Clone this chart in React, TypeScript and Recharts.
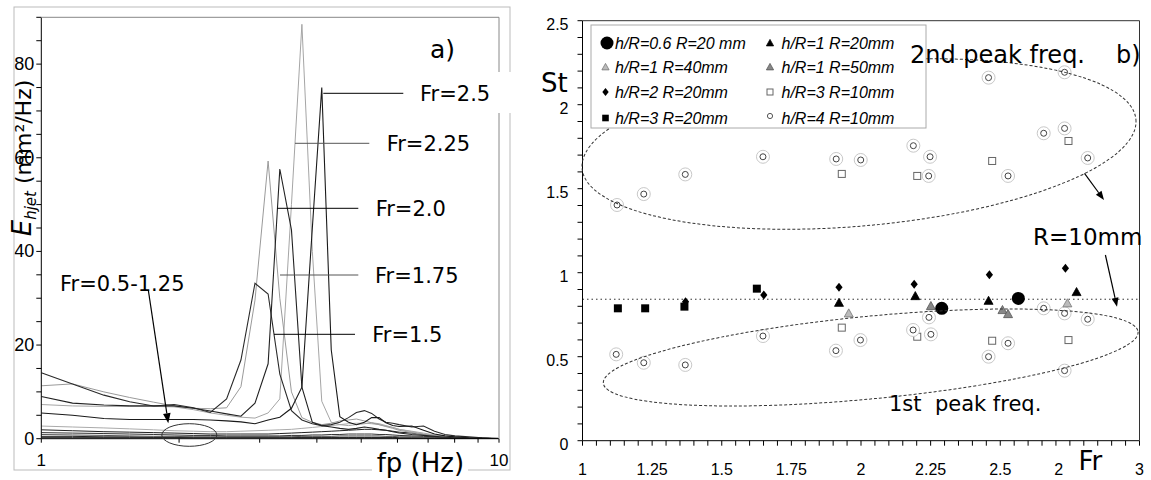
import React from 'react';
import { LineChart, Line, XAxis, YAxis, ScatterChart, Scatter, ReferenceLine } from 'recharts';

const ARIAL = 'Liberation Sans, Arial, sans-serif';
const DEJAVU = 'DejaVu Sans, sans-serif';

// ---------- Panel a) spectra ----------
const freqs = [1.0, 1.17, 1.37, 1.56, 1.76, 1.95, 2.15, 2.34, 2.54, 2.73, 2.93, 3.13, 3.32, 3.52, 3.71, 3.91, 4.10, 4.30, 4.49, 4.69, 4.88, 5.08, 5.27, 5.47, 5.66, 5.86, 6.05, 6.45, 6.84, 7.23, 7.62, 8.01, 8.59, 9.18, 9.96];
const specFr150 = [14.1, 11.7, 9.3, 7.9, 7.0, 7.3, 6.6, 5.6, 8.5, 16.8, 33.2, 30.9, 13.8, 6.0, 4.0, 3.2, 2.8, 3.0, 3.5, 4.5, 5.6, 6.0, 5.4, 4.2, 3.5, 3.3, 3.0, 2.5, 2.7, 1.6, 0.9, 0.6, 0.4, 0.2, 0.1];
const specFr175 = [11.3, 11.7, 10.0, 8.8, 7.8, 7.0, 6.5, 6.4, 6.6, 11.1, 29.6, 59.3, 30.0, 10.0, 4.5, 3.5, 3.0, 3.3, 3.8, 4.0, 4.2, 3.8, 3.4, 3.0, 2.6, 2.2, 1.8, 1.3, 0.9, 0.6, 0.4, 0.3, 0.2, 0.1, 0.0];
const specFr200 = [9.0, 7.6, 7.2, 7.0, 7.0, 7.0, 6.5, 5.9, 5.3, 4.8, 7.6, 16.0, 57.6, 44.6, 11.0, 3.5, 2.8, 2.5, 2.2, 2.0, 2.2, 2.5, 2.3, 2.0, 1.8, 1.5, 1.2, 0.9, 0.7, 0.5, 0.3, 0.2, 0.1, 0.1, 0.0];
const specFr225 = [7.3, 7.0, 6.9, 6.9, 6.9, 6.8, 6.2, 5.5, 5.0, 4.6, 4.4, 5.5, 8.5, 50.0, 88.5, 40.0, 8.0, 3.5, 3.0, 2.8, 3.0, 3.2, 3.4, 3.2, 2.8, 2.4, 2.0, 1.5, 1.0, 0.7, 0.5, 0.3, 0.2, 0.1, 0.0];
const specFr250 = [5.5, 5.0, 4.3, 4.1, 4.1, 4.1, 4.1, 4.0, 3.8, 3.6, 3.2, 4.0, 4.6, 6.5, 11.0, 45.0, 75.0, 19.0, 4.7, 3.5, 3.0, 3.5, 4.5, 4.5, 3.4, 2.8, 2.6, 2.7, 1.8, 1.0, 0.6, 0.4, 0.2, 0.1, 0.0];
const specLow1 = [2.7, 2.5, 2.3, 2.1, 1.9, 1.7, 1.6, 1.5, 1.5, 1.6, 1.7, 1.8, 1.9, 2.0, 2.2, 2.4, 2.6, 2.8, 3.0, 3.2, 3.3, 3.3, 3.2, 3.0, 2.7, 2.4, 2.0, 1.6, 1.2, 0.8, 0.5, 0.3, 0.2, 0.1, 0.0];
const specLow2 = [1.9, 1.7, 1.5, 1.4, 1.3, 1.2, 1.1, 1.0, 1.0, 1.0, 1.0, 1.0, 1.1, 1.2, 1.3, 1.4, 1.5, 1.6, 1.7, 1.8, 1.9, 2.0, 2.0, 1.9, 1.8, 1.6, 1.4, 1.2, 0.9, 0.6, 0.4, 0.3, 0.2, 0.1, 0.0];
const specLow3 = [1.3, 1.2, 1.1, 1.0, 0.9, 0.8, 0.7, 0.7, 0.6, 0.6, 0.6, 0.6, 0.6, 0.7, 0.7, 0.8, 0.8, 0.9, 0.9, 1.0, 1.0, 1.0, 1.0, 0.9, 0.9, 0.8, 0.7, 0.6, 0.5, 0.4, 0.3, 0.2, 0.1, 0.1, 0.0];
const specLow4 = [0.9, 0.8, 0.7, 0.6, 0.5, 0.5, 0.4, 0.4, 0.4, 0.4, 0.4, 0.4, 0.4, 0.4, 0.5, 0.5, 0.5, 0.5, 0.6, 0.6, 0.6, 0.6, 0.6, 0.6, 0.5, 0.5, 0.4, 0.4, 0.3, 0.3, 0.2, 0.2, 0.1, 0.1, 0.0];
const specLow5 = [0.5, 0.5, 0.4, 0.4, 0.3, 0.3, 0.3, 0.3, 0.3, 0.3, 0.3, 0.3, 0.3, 0.3, 0.3, 0.3, 0.3, 0.3, 0.3, 0.3, 0.3, 0.3, 0.3, 0.3, 0.3, 0.3, 0.2, 0.2, 0.2, 0.2, 0.1, 0.1, 0.1, 0.1, 0.0];
const specLow6 = [0.2, 0.2, 0.2, 0.2, 0.2, 0.2, 0.2, 0.2, 0.2, 0.2, 0.2, 0.2, 0.2, 0.2, 0.2, 0.2, 0.2, 0.2, 0.2, 0.2, 0.2, 0.2, 0.2, 0.2, 0.2, 0.2, 0.1, 0.1, 0.1, 0.1, 0.1, 0.1, 0.0, 0.0, 0.0];

const leftXTicks = [1, 2, 3, 4, 5, 6, 7, 8, 9, 10];
const leftXLabels = [1, 10];
const leftYTicks = [0, 5, 10, 15, 20, 25, 30, 35, 40, 45, 50, 55, 60, 65, 70, 75, 80, 85, 90];
const leftYLabels = [0, 20, 40, 60, 80];

const spectra = [
  { key: 'low6', values: specLow6, color: '#000', w: 1 },
  { key: 'low5', values: specLow5, color: '#222', w: 1 },
  { key: 'low4', values: specLow4, color: '#555', w: 1 },
  { key: 'low3', values: specLow3, color: '#333', w: 1 },
  { key: 'low2', values: specLow2, color: '#222', w: 1 },
  { key: 'low1', values: specLow1, color: '#aaa', w: 1 },
  { key: 'fr225', values: specFr225, color: '#a5a5a5', w: 1 },
  { key: 'fr175', values: specFr175, color: '#9a9a9a', w: 1 },
  { key: 'fr150', values: specFr150, color: '#2a2a2a', w: 1.1 },
  { key: 'fr200', values: specFr200, color: '#222', w: 1.1 },
  { key: 'fr250', values: specFr250, color: '#1a1a1a', w: 1.1 },
];
const spectrumRows = freqs.map((f, i) => {
  const row: any = { f };
  spectra.forEach((s) => { row[s.key] = s.values[i]; });
  return row;
});

// ---------- Panel b) Strouhal vs Froude ----------
const hR06R20 = [[2.29, 0.788], [2.565, 0.847]];
const hR1R20 = [[1.921, 0.821], [2.195, 0.861], [2.458, 0.833], [2.774, 0.885]];
const hR1R40 = [[1.956, 0.758], [2.741, 0.818]];
const hR1R50 = [[2.251, 0.802], [2.508, 0.778], [2.528, 0.754]];
const hR2R20 = [[1.37, 0.827], [1.651, 0.867], [1.921, 0.913], [2.191, 0.931], [2.461, 0.988], [2.734, 1.026]];
const hR3R10 = [[1.931, 1.588], [2.202, 1.576], [2.471, 1.665], [2.745, 1.784], [1.931, 0.673], [2.202, 0.619], [2.471, 0.595], [2.745, 0.599]];
const hR3R20 = [[1.127, 0.788], [1.225, 0.788], [1.366, 0.798], [1.626, 0.905]];
const hR4R10 = [
  [1.124, 1.403], [1.22, 1.468], [1.369, 1.585], [1.648, 1.69], [1.911, 1.677], [1.999, 1.671], [2.188, 1.756], [2.248, 1.69],
  [2.243, 1.576], [2.458, 2.161], [2.528, 1.576], [2.656, 1.83], [2.731, 2.193], [2.731, 1.859], [2.814, 1.683],
  [1.121, 0.514], [1.22, 0.464], [1.369, 0.451], [1.648, 0.623], [1.91, 0.536], [1.998, 0.599], [2.187, 0.659], [2.244, 0.734],
  [2.251, 0.633], [2.458, 0.5], [2.528, 0.58], [2.656, 0.788], [2.731, 0.758], [2.731, 0.417], [2.814, 0.723],
];
const stDottedLevel = 0.842;

const rightXTicks = Array.from({ length: 41 }, (_, i) => Math.round((1 + i * 0.05) * 100) / 100);
const rightXLabels = [1, 1.25, 1.5, 1.75, 2, 2.25, 2.5, 2.75, 3];
const rightYTicks = Array.from({ length: 26 }, (_, i) => Math.round(i * 0.1 * 10) / 10);
const rightYLabels = [0, 0.5, 1, 1.5, 2, 2.5];

const toXY = (arr: number[][]) => arr.map(([x, y]) => ({ x, y }));

// ---------- marker shapes ----------
const BigCircle = (p: any) => <circle cx={p.cx} cy={p.cy} r={6.5} fill="#000" />;
const Tri = (fill: string, stroke: string, s = 4.5) => (p: any) => (
  <polygon points={`${p.cx},${p.cy - s} ${p.cx - s},${p.cy + s * 0.8} ${p.cx + s},${p.cy + s * 0.8}`} fill={fill} stroke={stroke} strokeWidth={0.8} />
);
const Diamond = (p: any) => (
  <polygon points={`${p.cx},${p.cy - 4.5} ${p.cx + 3.6},${p.cy} ${p.cx},${p.cy + 4.5} ${p.cx - 3.6},${p.cy}`} fill="#000" />
);
const OpenSquare = (p: any) => <rect x={p.cx - 3.5} y={p.cy - 3.5} width={7} height={7} fill="#fff" stroke="#666" strokeWidth={1} />;
const BlackSquare = (p: any) => <rect x={p.cx - 4} y={p.cy - 4} width={8} height={8} fill="#000" />;
const DoubleCircle = (p: any) => (
  <g>
    <circle cx={p.cx} cy={p.cy} r={6.5} fill="#fff" stroke="#c8c8c8" strokeWidth={1} />
    <circle cx={p.cx} cy={p.cy} r={3} fill="none" stroke="#444" strokeWidth={1} />
  </g>
);

// ---------- ticks ----------
const LeftXTick = (p: any) =>
  leftXLabels.includes(p.payload.value) ? (
    <text x={p.x} y={p.y} dy={21} textAnchor="middle" fontSize={17} fontFamily={ARIAL} fill="#000">{p.payload.value}</text>
  ) : <g />;
const LeftYTick = (p: any) =>
  leftYLabels.includes(p.payload.value) ? (
    <text x={p.x} y={p.y} dy={6} textAnchor="end" fontSize={18} fontFamily={ARIAL} fill="#000">{p.payload.value}</text>
  ) : <g />;
const RightXTick = (p: any) =>
  rightXLabels.includes(p.payload.value) ? (
    <text x={p.x} y={p.y} dy={27} textAnchor="middle" fontSize={16} fontFamily={ARIAL} fill="#000">{p.payload.value}</text>
  ) : <g />;
const RightYTick = (p: any) =>
  rightYLabels.includes(p.payload.value) ? (
    <text x={p.x} y={p.y} dy={9.3} textAnchor="end" fontSize={16} fontFamily={ARIAL} fill="#000">{p.payload.value}</text>
  ) : <g />;

const Arrow = ({ x1, y1, x2, y2, head = 10, half = 3.8 }: any) => {
  const dx = x2 - x1, dy = y2 - y1;
  const L = Math.hypot(dx, dy);
  const ux = dx / L, uy = dy / L;
  const bx = x2 - ux * head, by = y2 - uy * head;
  const nx = -uy, ny = ux;
  return (
    <g>
      <line x1={x1} y1={y1} x2={bx} y2={by} stroke="#000" strokeWidth={1.2} />
      <polygon points={`${x2},${y2} ${bx + nx * half},${by + ny * half} ${bx - nx * half},${by - ny * half}`} fill="#000" />
    </g>
  );
};

const frLabels = [
  { text: 'Fr=2.5', x1: 323.3, x2: 403.3, y: 93.3, tx: 420, color: '#000' },
  { text: 'Fr=2.25', x1: 295, x2: 369.3, y: 143.3, tx: 386.7, color: '#555' },
  { text: 'Fr=2.0', x1: 277.3, x2: 358.3, y: 208.3, tx: 375.7, color: '#000' },
  { text: 'Fr=1.75', x1: 280, x2: 358.3, y: 275, tx: 375, color: '#555' },
  { text: 'Fr=1.5', x1: 274, x2: 355, y: 334.3, tx: 372.3, color: '#000' },
];

const legendItems = [
  { label: 'h/R=0.6 R=20 mm', x: 607, y: 43, shape: BigCircle },
  { label: 'h/R=1 R=40mm', x: 605.5, y: 67, shape: Tri('#bbb', '#777', 3.6) },
  { label: 'h/R=2 R=20mm', x: 605.5, y: 92, shape: (p: any) => <polygon points={`${p.cx},${p.cy - 4} ${p.cx + 3.2},${p.cy} ${p.cx},${p.cy + 4} ${p.cx - 3.2},${p.cy}`} fill="#000" /> },
  { label: 'h/R=3 R=20mm', x: 605.5, y: 118, shape: (p: any) => <rect x={p.cx - 3.3} y={p.cy - 3.3} width={6.6} height={6.6} fill="#000" /> },
  { label: 'h/R=1 R=20mm', x: 770, y: 43, shape: Tri('#000', '#000', 3.6) },
  { label: 'h/R=1 R=50mm', x: 770, y: 67, shape: Tri('#888', '#555', 3.6) },
  { label: 'h/R=3 R=10mm', x: 770, y: 92, shape: (p: any) => <rect x={p.cx - 3} y={p.cy - 3} width={6} height={6} fill="#fff" stroke="#666" /> },
  { label: 'h/R=4 R=10mm', x: 770, y: 118, shape: (p: any) => <circle cx={p.cx} cy={p.cy - 2} r={2.6} fill="#fff" stroke="#555" /> },
];

export default function App() {
  return (
    <div style={{ position: 'absolute', left: 0, top: 0, width: 1151, height: 480, background: '#fff', fontFamily: DEJAVU }}>
      <div style={{ position: 'absolute', left: 0, top: 0 }}>
        <LineChart width={520} height={480} data={spectrumRows} margin={{ top: 17.3, right: 21, bottom: 11.3, left: 11.3 }}>
          <XAxis dataKey="f" type="number" scale="log" domain={[1, 10]} allowDataOverflow ticks={leftXTicks} interval={0}
            tickSize={4} tickMargin={2} tick={LeftXTick} height={30} axisLine={{ stroke: '#000' }} tickLine={{ stroke: '#000' }} />
          <YAxis type="number" domain={[0, 90]} allowDataOverflow ticks={leftYTicks} interval={0}
            tickSize={5} tickMargin={2} tick={LeftYTick} width={30} axisLine={{ stroke: '#000' }} tickLine={{ stroke: '#000' }} />
          {spectra.map((s) => (
            <Line key={s.key} dataKey={s.key} type="linear" stroke={s.color} strokeWidth={s.w} dot={false} activeDot={false} isAnimationActive={false} />
          ))}
        </LineChart>
      </div>
      <div style={{ position: 'absolute', left: 530, top: 0 }}>
        <ScatterChart width={621} height={480} margin={{ top: 20.7, right: 11.5, bottom: 9.3, left: 12.5 }}>
          <XAxis dataKey="x" type="number" domain={[1, 3]} allowDataOverflow ticks={rightXTicks} interval={0}
            tickSize={5} tickMargin={2} tick={RightXTick} height={30} axisLine={{ stroke: '#000' }} tickLine={{ stroke: '#000' }} />
          <YAxis dataKey="y" type="number" domain={[0, 2.5]} allowDataOverflow ticks={rightYTicks} interval={0}
            tickSize={5} tickMargin={9} tick={RightYTick} width={40} axisLine={{ stroke: '#000' }} tickLine={{ stroke: '#000' }} />
          <ReferenceLine y={stDottedLevel} stroke="#333" strokeDasharray="1.5 3" strokeWidth={1} />
          <Scatter data={toXY(hR3R10)} shape={OpenSquare} isAnimationActive={false} />
          <Scatter data={toXY(hR4R10)} shape={DoubleCircle} isAnimationActive={false} />
          <Scatter data={toXY(hR3R20)} shape={BlackSquare} isAnimationActive={false} />
          <Scatter data={toXY(hR2R20)} shape={Diamond} isAnimationActive={false} />
          <Scatter data={toXY(hR1R20)} shape={Tri('#000', '#000')} isAnimationActive={false} />
          <Scatter data={toXY(hR1R40)} shape={Tri('#bbb', '#777')} isAnimationActive={false} />
          <Scatter data={toXY(hR1R50)} shape={Tri('#888', '#555')} isAnimationActive={false} />
          <Scatter data={toXY(hR06R20)} shape={BigCircle} isAnimationActive={false} />
        </ScatterChart>
      </div>
      <svg width={1151} height={480} style={{ position: 'absolute', left: 0, top: 0, pointerEvents: 'none' }}>
        {/* ---- panel a ---- */}
        <rect x={14} y={7} width={496} height={463} fill="none" stroke="#bbb" strokeWidth={1} />
        <line x1={41.3} y1={17.3} x2={499} y2={17.3} stroke="#888" strokeWidth={1} />
        <line x1={499} y1={17.3} x2={499} y2={438.7} stroke="#888" strokeWidth={1} />
        <rect x={402} y={72} width={113} height={41} fill="#fff" />
        {frLabels.map((l) => (
          <g key={l.text}>
            <line x1={l.x1} y1={l.y} x2={l.x2} y2={l.y} stroke={l.color} strokeWidth={1} />
            <text x={l.tx} y={l.y + 7.7} fontSize={21} fontFamily={DEJAVU} fill="#000">{l.text}</text>
          </g>
        ))}
        <text x={430} y={58} fontSize={25} fontFamily={DEJAVU} fill="#000">a)</text>
        <text x={60} y={291} fontSize={21} fontFamily={DEJAVU} fill="#000">Fr=0.5-1.25</text>
        <Arrow x1={148.3} y1={290} x2={168.3} y2={423.3} />
        <ellipse cx={189.3} cy={435} rx={27.5} ry={11.3} fill="none" stroke="#333" strokeWidth={1} />
        <text transform="translate(31,158) rotate(-90)" textAnchor="middle" fontFamily={DEJAVU} fill="#000">
          <tspan fontSize={26} fontStyle="italic">E</tspan>
          <tspan fontSize={15} fontStyle="italic" dy={5}>hjet</tspan>
          <tspan fontSize={22} dy={-5}> (mm²/Hz)</tspan>
        </text>
        <rect x={372} y={447} width={96} height={33} fill="#fff" />
        <text x={376.7} y={472} fontSize={26} fontFamily={DEJAVU} fill="#000">fp (Hz)</text>

        {/* ---- panel b ---- */}
        <line x1={582.5} y1={20.7} x2={1139.5} y2={20.7} stroke="#333" strokeWidth={1} />
        <line x1={1139.5} y1={20.7} x2={1139.5} y2={440.7} stroke="#333" strokeWidth={1} />
        <ellipse cx={859} cy={144} rx={278} ry={82} transform="rotate(-5.05 859 144)" fill="none" stroke="#333" strokeWidth={1} strokeDasharray="3 2" />
        <ellipse cx={870.7} cy={357.5} rx={268.6} ry={41.3} transform="rotate(-5.5 870.7 357.5)" fill="none" stroke="#333" strokeWidth={1} strokeDasharray="3 2" />
        <rect x={591} y={25} width={335} height={103} fill="#fff" stroke="#aaa" strokeWidth={1} />
        {legendItems.map((it) => (
          <g key={it.label}>
            {it.shape({ cx: it.x, cy: it.y })}
            <text x={it.x < 700 ? 615 : 781.5} y={it.y + 5.6} fontSize={16} fontStyle="italic" fontFamily={ARIAL} fill="#000">{it.label}</text>
          </g>
        ))}
        <text x={541} y={91.5} fontSize={26} fontFamily={DEJAVU} fill="#000">St</text>
        <text x={910} y={63} fontSize={24} fontFamily={DEJAVU} fill="#000">2nd peak freq.</text>
        <text x={1116} y={63} fontSize={24} fontFamily={DEJAVU} fill="#000">b)</text>
        <text x={1033} y={245} fontSize={23} fontFamily={DEJAVU} fill="#000">R=10mm</text>
        <Arrow x1={1084.5} y1={173.3} x2={1104} y2={200} head={9} half={3.5} />
        <Arrow x1={1105.4} y1={255} x2={1117} y2={306.7} head={9} half={3.5} />
        <text x={889} y={411} fontSize={21} fontFamily={DEJAVU} fill="#000" style={{ whiteSpace: 'pre' }}>1st  peak freq.</text>
        <rect x={1064} y={447} width={44} height={33} fill="#fff" />
        <text x={1078.5} y={470} fontSize={26} fontFamily={DEJAVU} fill="#000">Fr</text>
      </svg>
    </div>
  );
}
